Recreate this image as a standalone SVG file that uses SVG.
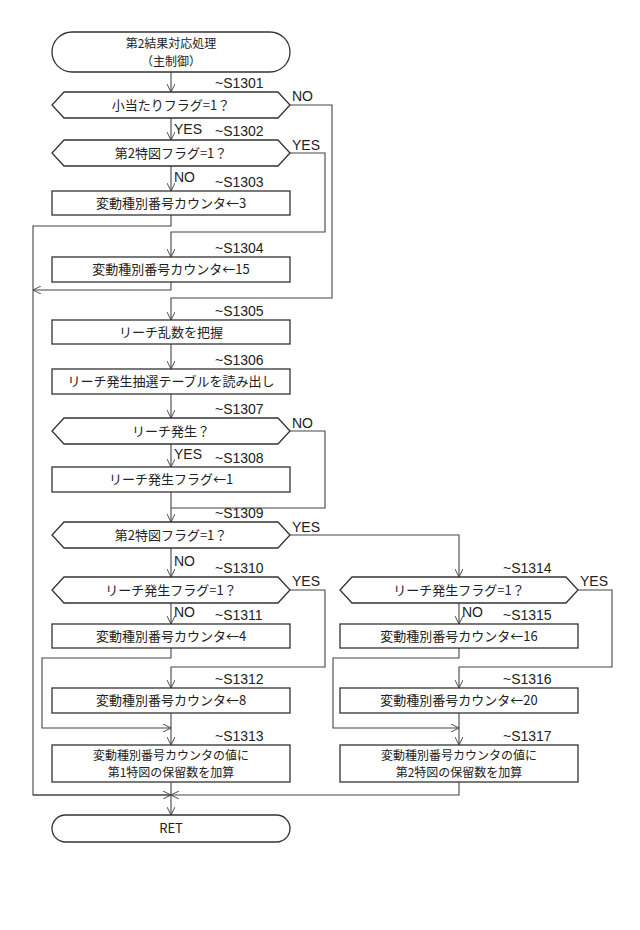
<svg xmlns="http://www.w3.org/2000/svg" width="640" height="930" viewBox="0 0 640 930">
<style>
.s{fill:#fff;stroke:#333;stroke-width:1.3}
.l{fill:none;stroke:#444;stroke-width:1.1}
.t{font-family:"Noto Sans CJK JP","Liberation Sans",sans-serif;font-size:13px;fill:#222;text-anchor:middle}
.t2{font-family:"Noto Sans CJK JP","Liberation Sans",sans-serif;font-size:12px;fill:#222;text-anchor:middle}
.lb{font-family:"Liberation Sans",sans-serif;font-size:14px;fill:#222}
</style>
<defs><marker id="a" viewBox="0 0 10 10" refX="10" refY="5" markerWidth="8" markerHeight="8" orient="auto" markerUnits="userSpaceOnUse"><path d="M0,0L10,5L0,10" fill="none" stroke="#444" stroke-width="1.2"/></marker></defs>
<rect width="640" height="930" fill="#fff"/>
<g id="connectors" class="l">
<path d="M171,72V92" marker-end="url(#a)"/>
<path d="M171,118V140" marker-end="url(#a)"/>
<path d="M171,166V191" marker-end="url(#a)"/>
<path d="M290,105H332V298H171V320" marker-end="url(#a)"/>
<path d="M290,153H325V232H171V257" marker-end="url(#a)"/>
<path d="M171,215V226H33V795H171"/>
<path d="M171,282V290H33" marker-end="url(#a)"/>
<path d="M171,344V369" marker-end="url(#a)"/>
<path d="M171,394V418" marker-end="url(#a)"/>
<path d="M171,444V467" marker-end="url(#a)"/>
<path d="M290,431H325V508H171"/>
<path d="M171,492V522" marker-end="url(#a)"/>
<path d="M290,535H459V577" marker-end="url(#a)"/>
<path d="M171,548V577" marker-end="url(#a)"/>
<path d="M171,603V624" marker-end="url(#a)"/>
<path d="M290,590H325V667H171V688" marker-end="url(#a)"/>
<path d="M171,648V658H42V728H171" marker-end="url(#a)"/>
<path d="M171,713V745" marker-end="url(#a)"/>
<path d="M171,782V815" marker-end="url(#a)"/>
<path d="M459,603V624" marker-end="url(#a)"/>
<path d="M578,590H612V667H459V688" marker-end="url(#a)"/>
<path d="M459,648V658H333V728H459" marker-end="url(#a)"/>
<path d="M459,713V745" marker-end="url(#a)"/>
<path d="M459,782V795H171" marker-end="url(#a)"/>
<path d="M33,795H171" marker-end="url(#a)"/>
</g>
<g id="start"><rect class="s" x="52" y="32" width="238" height="40" rx="20"/><text class="t2" x="171" y="48">第2結果対応処理</text><text class="t2" x="171" y="66">（主制御）</text></g>
<g id="S1301"><path class="s" d="M64,92H278L290,105L278,118H64L52,105Z"/><text class="t" x="171" y="110">小当たりフラグ=1？</text><text class="lb" x="215" y="88">~S1301</text><text class="lb" x="292" y="101">NO</text><text class="lb" x="174" y="134">YES</text></g>
<g id="S1302"><path class="s" d="M64,140H278L290,153L278,166H64L52,153Z"/><text class="t" x="171" y="158">第2特図フラグ=1？</text><text class="lb" x="215" y="136">~S1302</text><text class="lb" x="292" y="150">YES</text><text class="lb" x="174" y="182">NO</text></g>
<g id="S1303"><rect class="s" x="52" y="191" width="238" height="24"/><text class="t" x="171" y="208">変動種別番号カウンタ←3</text><text class="lb" x="215" y="187">~S1303</text></g>
<g id="S1304"><rect class="s" x="52" y="257" width="238" height="25"/><text class="t" x="171" y="274">変動種別番号カウンタ←15</text><text class="lb" x="215" y="253">~S1304</text></g>
<g id="S1305"><rect class="s" x="52" y="320" width="238" height="24"/><text class="t" x="171" y="337">リーチ乱数を把握</text><text class="lb" x="215" y="316">~S1305</text></g>
<g id="S1306"><rect class="s" x="52" y="369" width="238" height="25"/><text class="t" x="171" y="386">リーチ発生抽選テーブルを読み出し</text><text class="lb" x="215" y="365">~S1306</text></g>
<g id="S1307"><path class="s" d="M64,418H278L290,431L278,444H64L52,431Z"/><text class="t" x="171" y="436">リーチ発生？</text><text class="lb" x="215" y="414">~S1307</text><text class="lb" x="292" y="428">NO</text><text class="lb" x="174" y="459">YES</text></g>
<g id="S1308"><rect class="s" x="52" y="467" width="238" height="25"/><text class="t" x="171" y="484">リーチ発生フラグ←1</text><text class="lb" x="215" y="463">~S1308</text></g>
<g id="S1309"><path class="s" d="M64,522H278L290,535L278,548H64L52,535Z"/><text class="t" x="171" y="540">第2特図フラグ=1？</text><text class="lb" x="215" y="518">~S1309</text><text class="lb" x="292" y="532">YES</text><text class="lb" x="174" y="566">NO</text></g>
<g id="S1310"><path class="s" d="M64,577H278L290,590L278,603H64L52,590Z"/><text class="t" x="171" y="595">リーチ発生フラグ=1？</text><text class="lb" x="215" y="573">~S1310</text><text class="lb" x="292" y="586">YES</text><text class="lb" x="174" y="617">NO</text></g>
<g id="S1311"><rect class="s" x="52" y="624" width="238" height="24"/><text class="t" x="171" y="641">変動種別番号カウンタ←4</text><text class="lb" x="215" y="620">~S1311</text></g>
<g id="S1312"><rect class="s" x="52" y="688" width="238" height="25"/><text class="t" x="171" y="705">変動種別番号カウンタ←8</text><text class="lb" x="215" y="684">~S1312</text></g>
<g id="S1313"><rect class="s" x="52" y="745" width="238" height="37"/><text class="t2" x="171" y="760">変動種別番号カウンタの値に</text><text class="t2" x="171" y="777">第1特図の保留数を加算</text><text class="lb" x="215" y="741">~S1313</text></g>
<g id="S1314"><path class="s" d="M352,577H566L578,590L566,603H352L340,590Z"/><text class="t" x="459" y="595">リーチ発生フラグ=1？</text><text class="lb" x="503" y="573">~S1314</text><text class="lb" x="580" y="586">YES</text><text class="lb" x="462" y="617">NO</text></g>
<g id="S1315"><rect class="s" x="340" y="624" width="238" height="24"/><text class="t" x="459" y="641">変動種別番号カウンタ←16</text><text class="lb" x="503" y="620">~S1315</text></g>
<g id="S1316"><rect class="s" x="340" y="688" width="238" height="25"/><text class="t" x="459" y="705">変動種別番号カウンタ←20</text><text class="lb" x="503" y="684">~S1316</text></g>
<g id="S1317"><rect class="s" x="340" y="745" width="238" height="37"/><text class="t2" x="459" y="760">変動種別番号カウンタの値に</text><text class="t2" x="459" y="777">第2特図の保留数を加算</text><text class="lb" x="503" y="741">~S1317</text></g>
<g id="ret"><rect class="s" x="52" y="815" width="238" height="27" rx="13.5"/><text class="t" x="171" y="833">RET</text></g>
</svg>
